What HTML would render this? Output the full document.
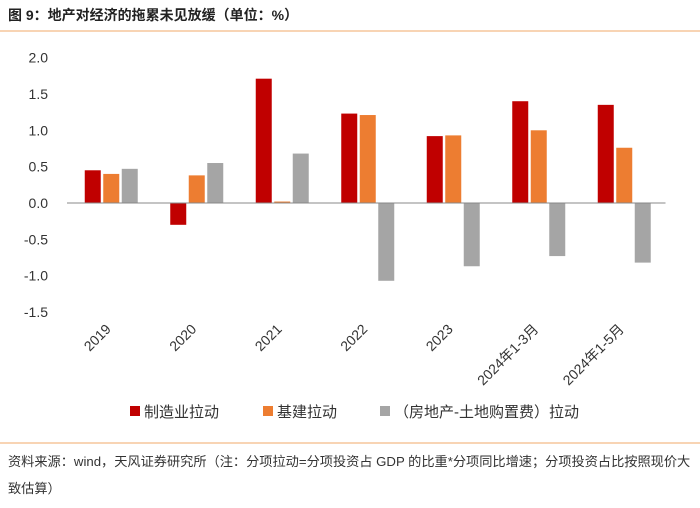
<!DOCTYPE html>
<html><head><meta charset="utf-8"><style>
body{margin:0;background:#fff;width:700px;height:503px;overflow:hidden;font-family:"Liberation Sans","Noto Sans CJK SC",sans-serif}
</style></head><body>
<svg id="c" width="700" height="503" xmlns="http://www.w3.org/2000/svg">
<text x="8" y="20" font-size="14" font-weight="bold" fill="#222" font-family="Liberation Sans, Noto Sans CJK SC, sans-serif">图 9：地产对经济的拖累未见放缓（单位：%）</text>
<line x1="0" y1="31" x2="700" y2="31" stroke="#F0A868" stroke-width="1"/>
<line x1="0" y1="443" x2="700" y2="443" stroke="#F0A868" stroke-width="1"/>
<text x="8" y="466" font-size="13.2" fill="#333" font-family="Liberation Sans, Noto Sans CJK SC, sans-serif">资料来源：wind，天风证券研究所（注：分项拉动=分项投资占 GDP 的比重*分项同比增速；分项投资占比按照现价大</text>
<text x="8" y="493" font-size="13.2" fill="#333" font-family="Liberation Sans, Noto Sans CJK SC, sans-serif">致估算）</text>
<g id="plot"></g>
<g id="legend"></g>
</svg>
<script>
const categories=["2019","2020","2021","2022","2023","2024年1-3月","2024年1-5月"];
const manufacturing=[0.45,-0.30,1.71,1.23,0.92,1.40,1.35];
const infrastructure=[0.40,0.38,0.02,1.21,0.93,1.00,0.76];
const realEstate=[0.47,0.55,0.68,-1.07,-0.87,-0.73,-0.82];
const yTicks=[2.0,1.5,1.0,0.5,0.0,-0.5,-1.0,-1.5];
const seriesNames=["制造业拉动","基建拉动","（房地产-土地购置费）拉动"];
const colors=["#C00000","#ED7D31","#A5A5A5"];
const NS="http://www.w3.org/2000/svg";
const plot=document.getElementById('plot'),legend=document.getElementById('legend');
const x0=67,step=85.5,y=v=>203-v*72.7;
function mk(t,a,p){const e=document.createElementNS(NS,t);for(const k in a)e.setAttribute(k,a[k]);(p||plot).appendChild(e);return e;}
yTicks.forEach(v=>{const t=mk('text',{x:48,y:y(v)+5,'text-anchor':'end','font-size':14,fill:'#333'});t.textContent=v.toFixed(1);

});
const series=[manufacturing,infrastructure,realEstate];
series.forEach((s,si)=>s.forEach((v,i)=>{const cx=x0+step*(i+0.5);const bx=cx-25+si*18.5;
const r=mk('rect',{x:bx,y:Math.min(y(v),y(0)),width:16,height:Math.abs(y(v)-y(0)),fill:colors[si]});

}));
const ax=mk('line',{x1:x0,y1:y(0),x2:x0+step*7,y2:y(0),stroke:'#888'});


categories.forEach((c,i)=>{const cx=x0+step*(i+0.5)+2;const ty=330;const t=mk('text',{x:cx,y:ty,'text-anchor':'end','font-size':14,fill:'#333',transform:`rotate(-45 ${cx} ${ty})`});t.textContent=c;

});
const lx=[130,263,380];
seriesNames.forEach((n,i)=>{const r=mk('rect',{x:lx[i],y:406,width:10,height:10,fill:colors[i]},legend);


const t=mk('text',{x:lx[i]+14,y:417,'font-size':15,fill:'#333'},legend);t.textContent=n;

});
</script>
</body></html>
